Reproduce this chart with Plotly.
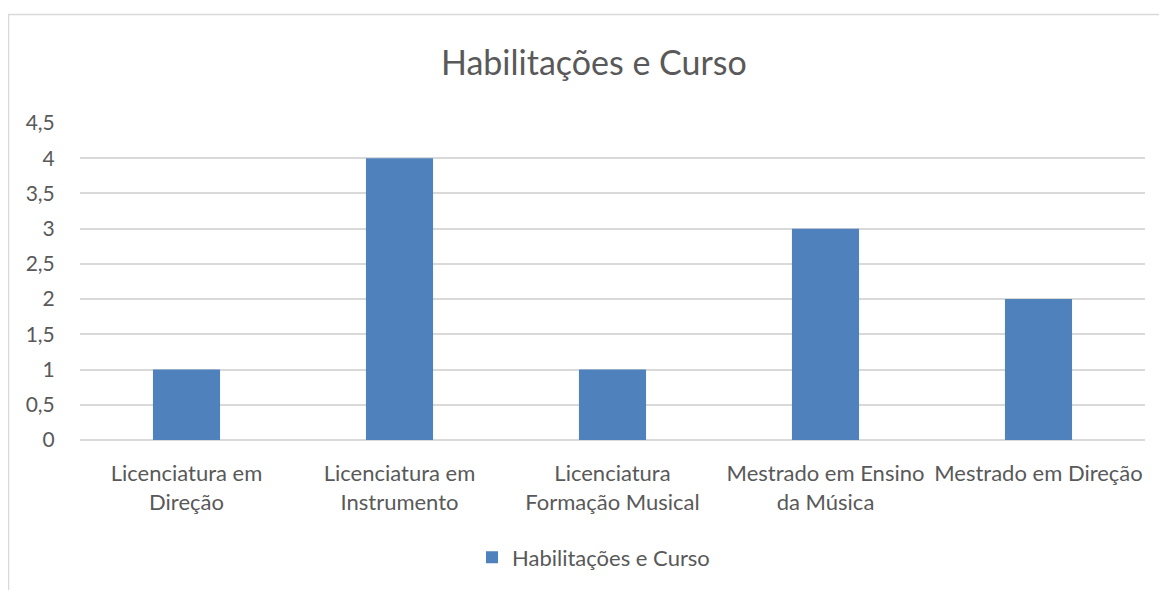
import plotly.graph_objects as go

categories = [
    "Licenciatura em<br>Direção",
    "Licenciatura em<br>Instrumento",
    "Licenciatura<br>Formação Musical",
    "Mestrado em Ensino<br>da Música",
    "Mestrado em Direção",
]
values = [1, 4, 1, 3, 2]
series_name = "Habilitações e Curso"
tick_vals = [0, 0.5, 1, 1.5, 2, 2.5, 3, 3.5, 4, 4.5]
tick_text = ["0", "0,5", "1", "1,5", "2", "2,5", "3", "3,5", "4", "4,5"]

FONT = "Lato, Open Sans, sans-serif"
TXT = "#595959"

fig = go.Figure()
fig.add_trace(go.Bar(x=categories, y=values, name=series_name,
                     marker=dict(color="#4F81BD", line=dict(width=0))))

# page has an 8px body margin; figure coordinates = page - 8
W, H = 1151, 582
L, R, T, B = 72, 14, 115, 143
pw = W - L - R
ph = H - T - B
bx = (0.5 - L) / pw
by = 1 + (T - 4.0) / ph
fig.add_shape(type="path", xref="paper", yref="paper",
              path=f"M {bx},-1 L {bx},{by} L 1.2,{by}",
              line=dict(color="#D9D9D9", width=1.5))

fig.update_layout(
    width=W, height=H,
    margin=dict(l=L, r=R, t=T, b=B),
    paper_bgcolor="white", plot_bgcolor="white",
    title=dict(text="Habilitações e Curso", x=0.509, xanchor="center",
               y=1 - 55 / H, yanchor="middle",
               font=dict(family=FONT, size=34, color=TXT)),
    bargap=0.685,
    showlegend=True,
    legend=dict(orientation="h", x=(464 - L) / pw, xanchor="left",
                y=(T + ph - 559) / ph, yanchor="middle",
                font=dict(family=FONT, size=22, color=TXT)),
    font=dict(family=FONT, size=22, color=TXT),
)
fig.update_xaxes(tickfont=dict(family=FONT, size=22, color=TXT),
                 showline=False, ticks="outside", ticklen=14, tickcolor="rgba(0,0,0,0)",
                 showgrid=False)
fig.update_yaxes(range=[0, 4.5], tickvals=tick_vals, ticktext=tick_text,
                 showgrid=True, gridcolor="#D9D9D9", gridwidth=1.5,
                 zeroline=True, zerolinecolor="#D9D9D9", zerolinewidth=1.5,
                 showline=False, ticks="outside", ticklen=20, tickcolor="rgba(0,0,0,0)",
                 tickfont=dict(family=FONT, size=21, color=TXT))

fig.write_html("out.html")
